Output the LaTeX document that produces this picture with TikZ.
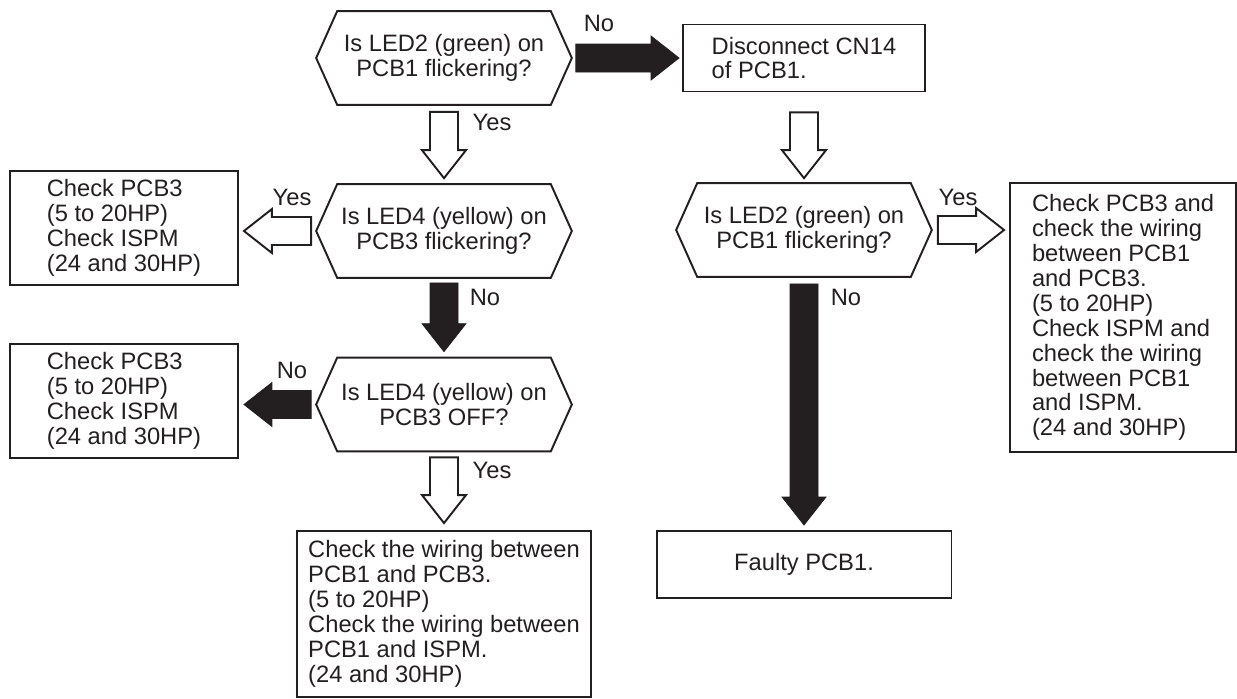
\documentclass[tikz,border=0pt]{standalone}
\usepackage{fontspec}
\setmainfont{Liberation Sans}
\usetikzlibrary{calc}
\definecolor{clInk}{HTML}{231F20}
\tikzset{
  txt/.style={font=\fontsize{13.5}{14.2}\selectfont, text=clInk},
  box/.style={txt, rectangle, draw=clInk, line width=1.1pt, align=left, inner sep=0pt},
  query/.style={txt, rectangle, align=center, inner sep=0pt,
                minimum width=5.1cm, minimum height=1.86cm},
  hexline/.style={draw=clInk, line width=1.1pt, line join=miter},
  tag/.style={txt, inner sep=0pt},
  solidarrow/.style={fill=clInk, draw=clInk, line width=0.4pt},
  hollowarrow/.style={fill=white, draw=clInk, line width=1.1pt, line join=miter},
}
% hexagon outline round a query node
\newcommand\hexframe[1]{%
  \draw[hexline] ([xshift=0.42cm]#1.north west) -- ([xshift=-0.42cm]#1.north east) -- (#1.east)
    -- ([xshift=-0.42cm]#1.south east) -- ([xshift=0.42cm]#1.south west) -- (#1.west) -- cycle;}
% block arrow: style, from, to, gap at start, gap at end
\newcommand\fatarrow[5]{%
  \coordinate (fas) at ($(#2)!#4!(#3)$);
  \coordinate (fae) at ($(#3)!#5!(#2)$);
  \coordinate (fah) at ($(fae)!0.56cm!(fas)$);
  \draw[#1] ($(fas)!0.28cm!90:(fae)$) -- ($(fah)!0.28cm!-90:(fas)$) -- ($(fah)!0.44cm!-90:(fas)$)
    -- (fae) -- ($(fah)!0.44cm!90:(fas)$) -- ($(fah)!0.28cm!90:(fas)$) -- ($(fas)!0.28cm!-90:(fae)$) -- cycle;}

\begin{document}
\begin{tikzpicture}[x=0.02cm, y=-0.02cm]
  \useasboundingbox (0,0) rectangle (1237,698);
  % questions
  \node[query] (q1) at (444,58) {Is LED2 (green) on\\PCB1 flickering?};
  \node[query] (q2) at (444,231) {Is LED4 (yellow) on\\PCB3 flickering?};
  \node[query] (q3) at (444,404.5) {Is LED4 (yellow) on\\PCB3 OFF?};
  \node[query] (q4) at (804,230) {Is LED2 (green) on\\PCB1 flickering?};
  \hexframe{q1}
  \hexframe{q2}
  \hexframe{q3}
  \hexframe{q4}
  % actions
  \node[box, minimum width=4.84cm, minimum height=1.34cm] (disc) at (804,58) {Disconnect CN14\\of PCB1.};
  \node[box, minimum width=4.56cm, minimum height=2.28cm] (chk1) at (124,228) {Check PCB3\\(5 to 20HP)\\Check ISPM\\(24 and 30HP)};
  \node[box, minimum width=4.56cm, minimum height=2.28cm] (chk2) at (124,401) {Check PCB3\\(5 to 20HP)\\Check ISPM\\(24 and 30HP)};
  \node[box, minimum width=5.88cm, minimum height=3.32cm] (wire) at (444,614) {Check the wiring between\\PCB1 and PCB3.\\(5 to 20HP)\\Check the wiring between\\PCB1 and ISPM.\\(24 and 30HP)};
  \node[box, minimum width=4.52cm, minimum height=5.38cm] (wire2) at (1123,317.5) {Check PCB3 and\\check the wiring\\between PCB1\\and PCB3.\\(5 to 20HP)\\Check ISPM and\\check the wiring\\between PCB1\\and ISPM.\\(24 and 30HP)};
  \node[box, align=center, minimum width=5.9cm, minimum height=1.34cm] (faulty) at (804,564.5) {Faulty PCB1.};
  % arrows
  \fatarrow{solidarrow}{q1.east}{disc.west}{0.08cm}{0.06cm}
  \fatarrow{hollowarrow}{q1.south}{q2.north}{0.14cm}{0.12cm}
  \coordinate (c2) at (q2.west -| chk1.east);
  \fatarrow{hollowarrow}{q2.west}{c2}{0.1cm}{0.1cm}
  \fatarrow{solidarrow}{q2.south}{q3.north}{0.1cm}{0.12cm}
  \coordinate (c3) at (q3.west -| chk2.east);
  \fatarrow{solidarrow}{q3.west}{c3}{0.1cm}{0.1cm}
  \fatarrow{hollowarrow}{q3.south}{wire.north}{0.12cm}{0.14cm}
  \fatarrow{hollowarrow}{disc.south}{q4.north}{0.4cm}{0.1cm}
  \coordinate (c4) at (q4.east -| wire2.west);
  \fatarrow{hollowarrow}{q4.east}{c4}{0.12cm}{0.1cm}
  \fatarrow{solidarrow}{q4.south}{faulty.north}{0.14cm}{0.1cm}
  % labels
  \node[tag] (no1) at (599,23) {No};
  \node[tag] (yes1) at (492,122) {Yes};
  \node[tag] (yes2) at (292,197) {Yes};
  \node[tag] (no2) at (485,297) {No};
  \node[tag] (no3) at (292,370) {No};
  \node[tag] (yes3) at (492,470) {Yes};
  \node[tag] (yes4) at (958,197) {Yes};
  \node[tag] (no4) at (846,297) {No};
\end{tikzpicture}
\end{document}
